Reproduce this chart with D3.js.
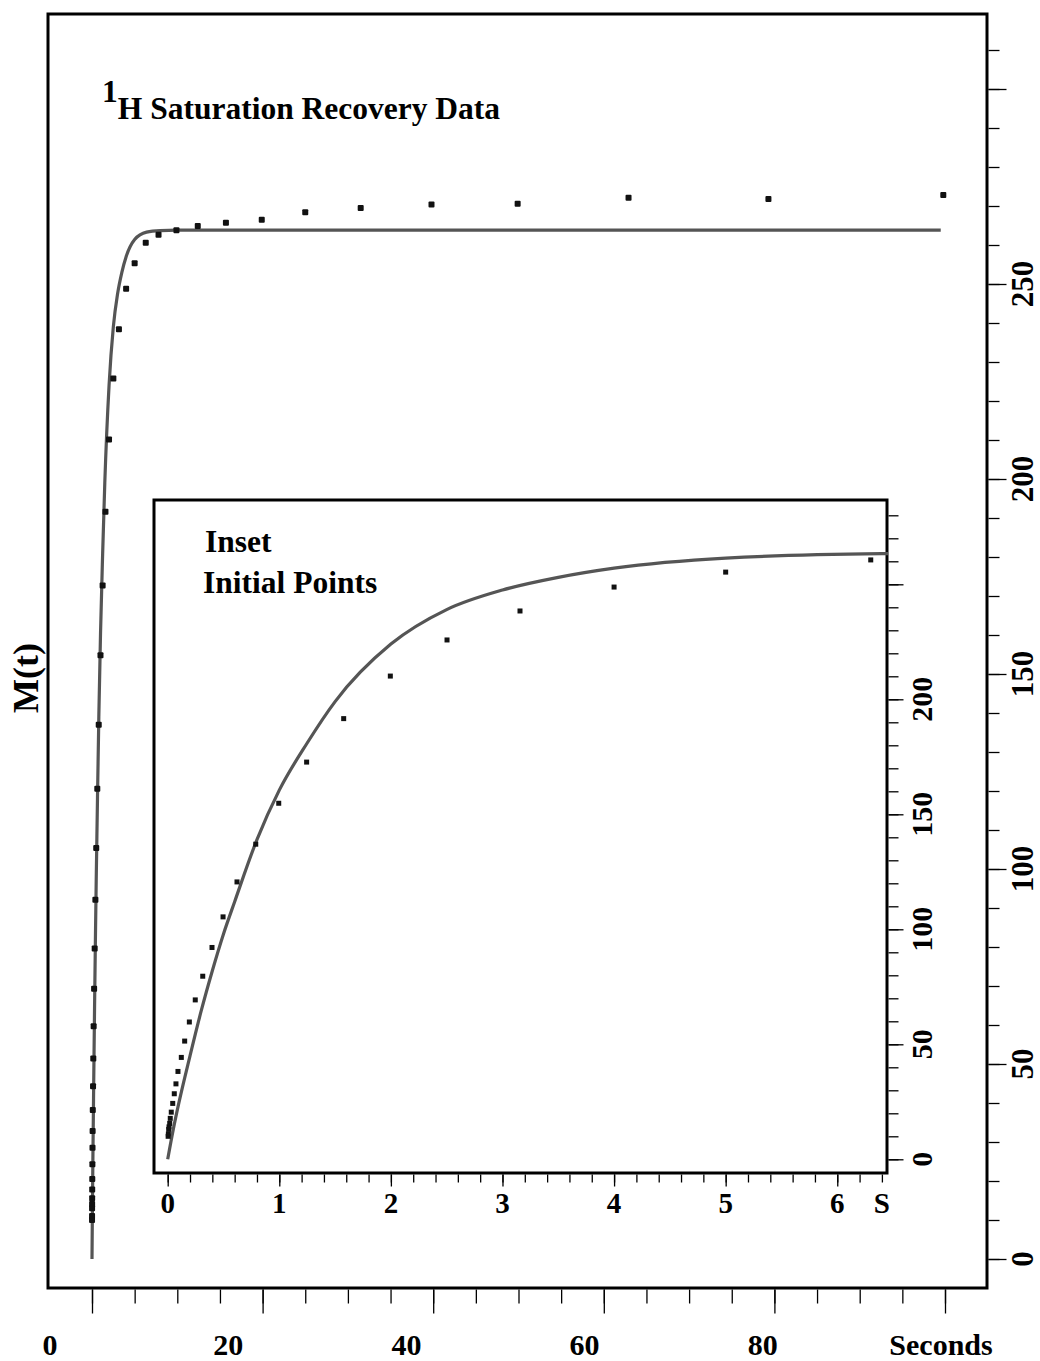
<!DOCTYPE html>
<html>
<head>
<meta charset="utf-8">
<script src="https://cdn.jsdelivr.net/npm/d3@7"></script>
<style>
  body { margin: 0; background: #fff; }
  svg { display: block; }
  text { font-family: "Liberation Serif", "Times New Roman", serif; font-weight: bold; fill: #000; }
</style>
</head>
<body>
<svg id="chart" width="1040" height="1361"></svg>
<script>
// observed recovery points (seconds, M(t))
const obsTime = [0.004, 0.006, 0.009, 0.012, 0.018, 0.023, 0.032, 0.045, 0.059, 0.074, 0.092,
  0.122, 0.152, 0.194, 0.247, 0.314, 0.397, 0.496, 0.621, 0.789, 0.995, 1.245, 1.577,
  1.995, 2.503, 3.157, 4.0, 5.0, 6.3, 7.8, 9.9, 12.4, 15.7, 19.9, 25.0, 31.5, 39.8,
  49.9, 62.9, 79.3, 99.8];
const obsM = [10, 11, 13, 14.1, 15.6, 17.8, 20.5, 24.3, 28.5, 32.8, 38.2,
  44.3, 51.4, 59.7, 69.3, 79.6, 92.1, 105.4, 120.6, 137.0, 154.8, 172.7, 191.6,
  210.1, 225.8, 238.4, 248.8, 255.3, 260.6, 262.6, 263.8, 264.9, 265.7, 266.5, 268.4, 269.5, 270.4,
  270.6, 272.1, 271.8, 272.8];

// fitted curve
const fitTime = [0, 0.05, 0.1, 0.2, 0.3, 0.4, 0.5, 0.6, 0.8, 1.0, 1.25, 1.5, 2.0, 2.5, 3.0, 3.5, 4.0, 5.0, 6.4, 8, 10, 15, 30, 99.5];
const fitM = [0, 13, 24.5, 45, 64.5, 82, 98, 112, 139, 160.5, 181, 199, 224, 239, 247.5, 253, 257, 261.4, 263.3, 263.7, 263.8, 263.8, 263.8, 263.8];

// axis ticks / labels
const mainXLabels = ["0", "20", "40", "60", "80", "Seconds"];
const mainXLabelVals = [0, 20, 40, 60, 80, 100];
const mainYLabels = [0, 50, 100, 150, 200, 250];
const insetXLabels = ["0", "1", "2", "3", "4", "5", "6", "S"];
const insetXLabelVals = [0, 1, 2, 3, 4, 5, 6, 6.4];
const insetYLabels = [0, 50, 100, 150, 200];

const svg = d3.select("#chart");

const obs = obsTime.map((t, i) => ({ t: t, m: obsM[i] }));
const fit = fitTime.map((t, i) => ({ t: t, m: fitM[i] }));

// main panel
const frame = { x0: 48, y0: 14, x1: 987, y1: 1288 };
const x = d3.scaleLinear().domain([0, 100]).range([92, 945]);
const xLab = d3.scaleLinear().domain([0, 100]).range([50, 941]); // labels sit offset from ticks in the original
const y = d3.scaleLinear().domain([0, 250]).range([1259, 284]);

// inset panel
const inset = { x0: 154, y0: 500, x1: 887, y1: 1173 };
const xi = d3.scaleLinear().domain([0, 6.4]).range([167.7, 881.9]);
const yi = d3.scaleLinear().domain([0, 250]).range([1159.3, 584.3]);

svg.append("rect")
  .attr("x", frame.x0).attr("y", frame.y0)
  .attr("width", frame.x1 - frame.x0).attr("height", frame.y1 - frame.y0)
  .attr("fill", "none").attr("stroke", "#000").attr("stroke-width", 3);

function ticks(axis, pos, transform, vals, size) {
  const g = svg.append("g").attr("transform", transform)
    .call(axis(pos).tickValues(vals).tickSize(size).tickFormat(""));
  g.select(".domain").remove();
  g.selectAll("line").attr("stroke", "#000").attr("stroke-width", 1.3);
}

// main axes ticks
ticks(d3.axisBottom, x, `translate(0,${frame.y1 + 1.5})`, d3.range(0, 101, 5), 14);
ticks(d3.axisBottom, x, `translate(0,${frame.y1 + 1.5})`, d3.range(0, 101, 20), 24);
ticks(d3.axisRight, y, `translate(${frame.x1 + 1.5},0)`, d3.range(0, 311, 10), 11);
ticks(d3.axisRight, y, `translate(${frame.x1 + 1.5},0)`, d3.range(0, 301, 50), 18);

svg.append("g").selectAll("text")
  .data(mainXLabels)
  .join("text")
  .attr("x", (d, i) => xLab(mainXLabelVals[i]))
  .attr("y", 1355)
  .attr("text-anchor", "middle")
  .attr("font-size", 30)
  .text(d => d);

svg.append("g").selectAll("text")
  .data(mainYLabels)
  .join("text")
  .attr("transform", d => `translate(1022,${y(d)}) rotate(-90)`)
  .attr("text-anchor", "middle")
  .attr("dominant-baseline", "central")
  .attr("font-size", 31)
  .text(d => d);

svg.append("text")
  .attr("transform", "translate(26,678) rotate(-90)")
  .attr("text-anchor", "middle")
  .attr("dominant-baseline", "central")
  .attr("font-size", 36)
  .text("M(t)");

const title = svg.append("text").attr("x", 102).attr("y", 119).attr("font-size", 31.5);
title.append("tspan").attr("dy", -17).text("1");
title.append("tspan").attr("dy", 17).text("H Saturation Recovery Data");

// main curve and points
const line = (sx, sy) => d3.line().x(d => sx(d.t)).y(d => sy(d.m)).curve(d3.curveMonotoneX);

svg.append("path")
  .datum(fit)
  .attr("d", line(x, y))
  .attr("fill", "none").attr("stroke", "#555").attr("stroke-width", 3.2);

svg.append("g").selectAll("rect")
  .data(obs)
  .join("rect")
  .attr("x", d => x(d.t) - 3).attr("y", d => y(d.m) - 3)
  .attr("width", 6).attr("height", 6)
  .attr("rx", 1)
  .attr("fill", "#111");

// inset
svg.append("rect")
  .attr("x", inset.x0).attr("y", inset.y0)
  .attr("width", inset.x1 - inset.x0).attr("height", inset.y1 - inset.y0)
  .attr("fill", "#fff").attr("stroke", "#000").attr("stroke-width", 3);

svg.append("clipPath").attr("id", "insetClip")
  .append("rect")
  .attr("x", inset.x0).attr("y", inset.y0)
  .attr("width", inset.x1 - inset.x0 + 1).attr("height", inset.y1 - inset.y0);

ticks(d3.axisBottom, xi, `translate(0,${inset.y1 + 1.5})`, d3.range(0, 6.41, 0.2).map(v => +v.toFixed(1)), 8);
ticks(d3.axisBottom, xi, `translate(0,${inset.y1 + 1.5})`, d3.range(0, 7, 1), 12);
ticks(d3.axisRight, yi, `translate(${inset.x1 + 1.5},0)`, d3.range(0, 281, 10), 10);
ticks(d3.axisRight, yi, `translate(${inset.x1 + 1.5},0)`, d3.range(0, 251, 50), 15);

svg.append("g").selectAll("text")
  .data(insetXLabels)
  .join("text")
  .attr("x", (d, i) => xi(insetXLabelVals[i]))
  .attr("y", 1213)
  .attr("text-anchor", "middle")
  .attr("font-size", 29)
  .text(d => d);

svg.append("g").selectAll("text")
  .data(insetYLabels)
  .join("text")
  .attr("transform", d => `translate(921,${yi(d)}) rotate(-90)`)
  .attr("text-anchor", "middle")
  .attr("dominant-baseline", "central")
  .attr("font-size", 30)
  .text(d => d);

svg.append("text").attr("x", 205).attr("y", 552).attr("font-size", 31.5).text("Inset");
svg.append("text").attr("x", 203).attr("y", 593).attr("font-size", 31.5).text("Initial Points");

svg.append("path")
  .datum(fit.filter(d => d.t <= 8))
  .attr("clip-path", "url(#insetClip)")
  .attr("d", line(xi, yi))
  .attr("fill", "none").attr("stroke", "#555").attr("stroke-width", 3.2);

svg.append("g").selectAll("rect")
  .data(obs.filter(d => d.t <= 6.4))
  .join("rect")
  .attr("x", d => xi(d.t) - 2.5).attr("y", d => yi(d.m) - 2.5)
  .attr("width", 5).attr("height", 5)
  .attr("fill", "#111");
</script>
</body>
</html>
